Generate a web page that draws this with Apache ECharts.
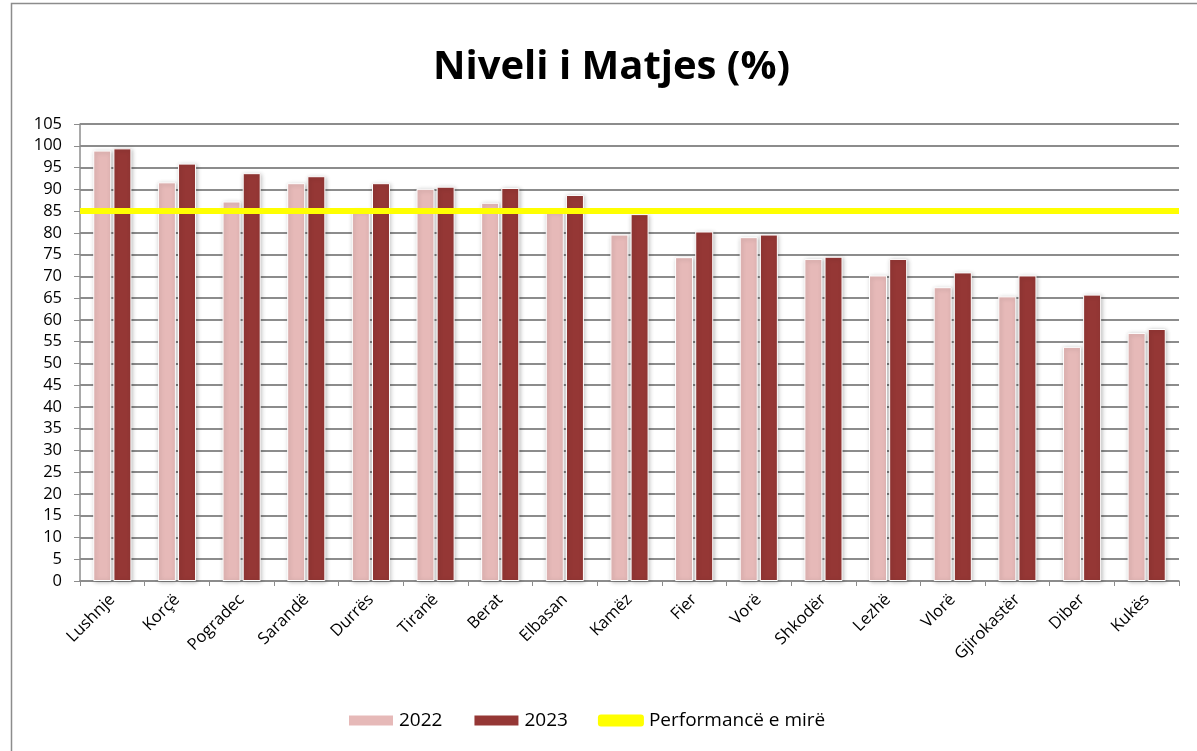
<!DOCTYPE html>
<html>
<head>
<meta charset="utf-8">
<script src="https://cdn.jsdelivr.net/npm/echarts@6/dist/echarts.min.js"></script>
<style>
html,body{margin:0;padding:0;background:#fff;}
#c{width:1197px;height:751px;}
</style>
</head>
<body>
<div id="c"></div>
<script>
const categories = ['Lushnje','Korçë','Pogradec','Sarandë','Durrës','Tiranë','Berat','Elbasan','Kamëz','Fier','Vorë','Shkodër','Lezhë','Vlorë','Gjirokastër','Diber','Kukës'];
const values2022 = [98.9, 91.6, 87.2, 91.4, 85.2, 90.1, 86.9, 85.0, 79.6, 74.4, 79.0, 74.0, 70.2, 67.5, 65.4, 53.8, 57.0];
const values2023 = [99.4, 95.9, 93.7, 93.0, 91.4, 90.6, 90.3, 88.7, 84.3, 80.3, 79.6, 74.5, 74.0, 70.9, 70.2, 65.8, 57.9];
const target = 85;
const yTicks = {min: 0, max: 105, interval: 5};

const chart = echarts.init(document.getElementById('c'));
const font = '"Open Sans", "Liberation Sans", sans-serif';
chart.setOption({
  animation: false,
  backgroundColor: '#fff',
  textStyle: {fontFamily: font},
  title: {
    text: 'Niveli i Matjes (%)',
    left: 428, top: 43,
    textStyle: {fontFamily: font, fontSize: 40, fontWeight: 'bold', color: '#000'}
  },
  graphic: [{
    type: 'rect', left: 9, top: 1,
    shape: {width: 1200, height: 760},
    style: {fill: 'none', stroke: '#8c8c8c', lineWidth: 1.5},
    silent: true
  }],
  legend: {
    bottom: 16, left: 342,
    itemWidth: 46, itemHeight: 12, itemGap: 30,
    textStyle: {fontFamily: font, fontSize: 19, color: '#000'},
    data: [
      {name: '2022', icon: 'rect'},
      {name: '2023', icon: 'rect'},
      {name: 'Performancë e mirë', icon: 'roundRect'}
    ]
  },
  grid: {left: 80, right: 18, top: 124, bottom: 170, containLabel: false},
  xAxis: {
    type: 'category',
    data: categories,
    boundaryGap: true,
    axisLine: {show: true, lineStyle: {color: '#8c8c8c', width: 1.5}},
    axisTick: {show: true, alignWithLabel: false, length: 5, lineStyle: {color: '#8c8c8c'}},
    axisLabel: {rotate: 45, interval: 0, fontFamily: font, fontSize: 16.5, color: '#000', margin: 16}
  },
  yAxis: {
    type: 'value',
    min: yTicks.min, max: yTicks.max, interval: yTicks.interval,
    axisLine: {show: true, lineStyle: {color: '#8c8c8c', width: 1.5}},
    axisTick: {show: true, length: 6, lineStyle: {color: '#8c8c8c'}},
    axisLabel: {fontFamily: font, fontSize: 16.5, color: '#000', margin: 18},
    splitLine: {show: true, lineStyle: {color: '#8c8c8c', width: 2}}
  },
  series: [
    {
      name: '2022', type: 'bar', data: values2022,
      barWidth: 18, barGap: '12%',
      itemStyle: {color: '#E6B9B8', borderColor: '#fff', borderWidth: 1,
        shadowColor: 'rgba(0,0,0,0.25)', shadowBlur: 4, shadowOffsetX: 1, shadowOffsetY: 1}
    },
    {
      name: '2023', type: 'bar', data: values2023,
      barWidth: 18,
      itemStyle: {color: '#953735', borderColor: '#fff', borderWidth: 1,
        shadowColor: 'rgba(0,0,0,0.25)', shadowBlur: 4, shadowOffsetX: 1, shadowOffsetY: 1}
    },
    {
      name: 'Performancë e mirë', type: 'line', data: [],
      itemStyle: {color: '#FFFF00'},
      lineStyle: {color: '#FFFF00', width: 6},
      markLine: {
        silent: true, symbol: ['none', 'none'],
        label: {show: false},
        lineStyle: {color: '#FFFF00', width: 6, type: 'solid'},
        data: [{yAxis: target}]
      }
    }
  ]
});
</script>
</body>
</html>
